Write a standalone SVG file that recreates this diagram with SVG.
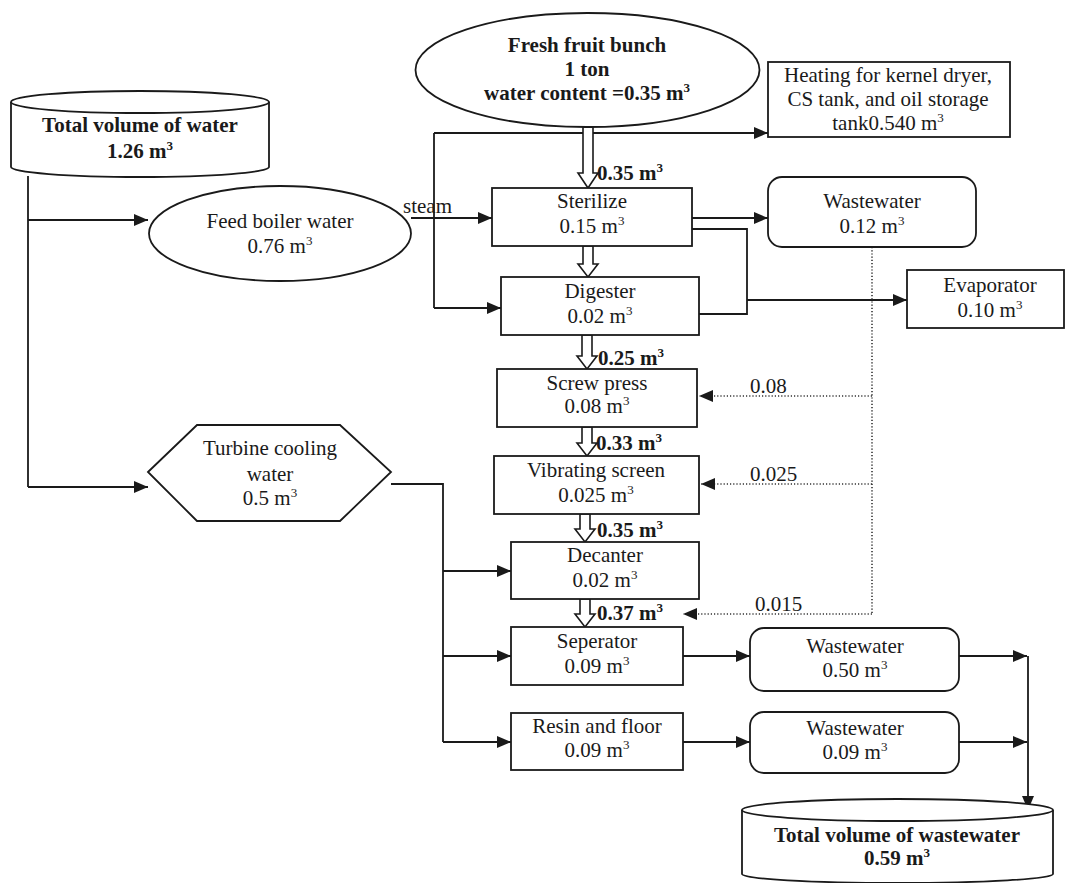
<svg xmlns="http://www.w3.org/2000/svg" width="1072" height="883" viewBox="0 0 1072 883">
  <defs>
    <marker id="arrow" markerUnits="userSpaceOnUse" markerWidth="16" markerHeight="14" refX="14" refY="6" orient="auto">
      <path d="M0,0 L14,6 L0,12 Z" fill="#1a1a1a"/>
    </marker>
    <style>
      .shape { fill: #fff; stroke: #1a1a1a; stroke-width: 1.8; }
      .line { fill: none; stroke: #1a1a1a; stroke-width: 1.8; }
      .arrow { fill: none; stroke: #1a1a1a; stroke-width: 1.8; marker-end: url(#arrow); }
      .dotted { fill: none; stroke: #333; stroke-width: 1.6; stroke-dasharray: 1.2 2; }
      .dotted-arrow { fill: none; stroke: #333; stroke-width: 1.6; stroke-dasharray: 1.2 2; marker-end: url(#arrow); }
      .hollow { fill: #fff; stroke: #1a1a1a; stroke-width: 1.6; stroke-linejoin: miter; }
      text { font-family: "Liberation Serif", "Times New Roman", serif; font-size: 21px; fill: #1a1a1a; }
      .c { text-anchor: middle; }
      .b { font-weight: bold; }
      .sup { font-size: 13px; }
    </style>
  </defs>

  <rect width="1072" height="883" fill="#fff"/>

  <!-- connectors -->
  <g id="connectors">
    <!-- main water supply trunk -->
    <path class="line" d="M28,176 L28,487"/>
    <path class="arrow" d="M28,220 L148,220"/>
    <path class="arrow" d="M28,487 L148,487"/>

    <!-- steam from boiler -->
    <path class="arrow" d="M411,218 L492,218"/>
    <path class="line" d="M434,133 L434,308"/>
    <path class="arrow" d="M434,133 L768,133"/>
    <path class="arrow" d="M434,308 L501,308"/>

    <!-- sterilizer outputs -->
    <path class="arrow" d="M692,218 L768,218"/>
    <path class="line" d="M692,229 L747,229 L747,314 L699,314"/>
    <path class="arrow" d="M747,300 L907,300"/>

    <!-- recycled wastewater (dotted) -->
    <path class="dotted" d="M872,247 L872,614"/>
    <path class="dotted-arrow" d="M872,396 L699,396"/>
    <path class="dotted-arrow" d="M872,484 L701,484"/>
    <path class="dotted-arrow" d="M872,614 L683,614"/>

    <!-- turbine cooling water distribution -->
    <path class="line" d="M391,484 L443,484 L443,742"/>
    <path class="arrow" d="M443,571 L511,571"/>
    <path class="arrow" d="M443,656 L511,656"/>
    <path class="arrow" d="M443,742 L511,742"/>

    <!-- to wastewater -->
    <path class="arrow" d="M683,656 L750,656"/>
    <path class="arrow" d="M683,742 L750,742"/>
    <path class="arrow" d="M959,656 L1027,656"/>
    <path class="arrow" d="M959,742 L1027,742"/>
    <path class="arrow" d="M1028,656 L1028,810"/>

    <!-- main process flow (hollow arrows) -->
    <polygon class="hollow" points="583,127 583,173 578,173 588,188 598,173 593,173 593,127"/>
    <polygon class="hollow" points="583,246 583,264 578,264 588,277 598,264 593,264 593,246"/>
    <polygon class="hollow" points="582,335 582,356 577,356 587,369 597,356 592,356 592,335"/>
    <polygon class="hollow" points="582,427 582,443 577,443 587,456 597,443 592,443 592,427"/>
    <polygon class="hollow" points="580,514 580,529 575,529 585,542 595,529 590,529 590,514"/>
    <polygon class="hollow" points="580,599 580,614 575,614 585,627 595,614 590,614 590,599"/>

    <text x="403" y="213">steam</text>
    <text class="b" x="597" y="180">0.35 m<tspan class="sup" dy="-8">3</tspan></text>
    <text class="b" x="598" y="365">0.25 m<tspan class="sup" dy="-8">3</tspan></text>
    <text class="b" x="596" y="450">0.33 m<tspan class="sup" dy="-8">3</tspan></text>
    <text class="b" x="597" y="537">0.35 m<tspan class="sup" dy="-8">3</tspan></text>
    <text class="b" x="597" y="620">0.37 m<tspan class="sup" dy="-8">3</tspan></text>
    <text x="750" y="393">0.08</text>
    <text x="750" y="481">0.025</text>
    <text x="755" y="611">0.015</text>
  </g>

  <!-- source tank -->
  <g id="total-water">
    <path class="shape" d="M11,102 L11,167 A129,10 0 0 0 269,167 L269,102"/>
    <ellipse class="shape" cx="140" cy="102" rx="129" ry="11"/>
    <text class="c b" x="140" y="132">Total volume of water</text>
    <text class="c b" x="140" y="158">1.26 m<tspan class="sup" dy="-8">3</tspan></text>
  </g>

  <g id="feed-boiler">
    <ellipse class="shape" cx="280" cy="233.5" rx="131" ry="47.5"/>
    <text class="c" x="280" y="228">Feed boiler water</text>
    <text class="c" x="280" y="253">0.76 m<tspan class="sup" dy="-8">3</tspan></text>
  </g>

  <g id="turbine">
    <polygon class="shape" points="148,472 197,425 340,425 391,472 340,521 197,521"/>
    <text class="c" x="270" y="455">Turbine cooling</text>
    <text class="c" x="270" y="481">water</text>
    <text class="c" x="270" y="505">0.5 m<tspan class="sup" dy="-8">3</tspan></text>
  </g>

  <g id="fresh-fruit">
    <ellipse class="shape" cx="587.5" cy="70" rx="172" ry="57"/>
    <text class="c b" x="587" y="52">Fresh fruit bunch</text>
    <text class="c b" x="587" y="76">1 ton</text>
    <text class="c b" x="587" y="100">water content =0.35 m<tspan class="sup" dy="-8">3</tspan></text>
  </g>

  <g id="heating">
    <rect class="shape" x="768" y="62" width="242" height="75"/>
    <text class="c" x="888" y="82">Heating for kernel dryer,</text>
    <text class="c" x="888" y="106">CS tank, and oil storage</text>
    <text class="c" x="888" y="130">tank0.540 m<tspan class="sup" dy="-8">3</tspan></text>
  </g>

  <g id="sterilize">
    <rect class="shape" x="492" y="188" width="200" height="58"/>
    <text class="c" x="592" y="208">Sterilize</text>
    <text class="c" x="592" y="233">0.15 m<tspan class="sup" dy="-8">3</tspan></text>
  </g>

  <g id="wastewater-sterilize">
    <rect class="shape" x="768" y="177" width="208" height="70" rx="14"/>
    <text class="c" x="872" y="208">Wastewater</text>
    <text class="c" x="872" y="233">0.12 m<tspan class="sup" dy="-8">3</tspan></text>
  </g>

  <g id="digester">
    <rect class="shape" x="501" y="277" width="198" height="58"/>
    <text class="c" x="600" y="298">Digester</text>
    <text class="c" x="600" y="323">0.02 m<tspan class="sup" dy="-8">3</tspan></text>
  </g>

  <g id="evaporator">
    <rect class="shape" x="907" y="270" width="157" height="58"/>
    <text class="c" x="990" y="292">Evaporator</text>
    <text class="c" x="990" y="317">0.10 m<tspan class="sup" dy="-8">3</tspan></text>
  </g>

  <g id="screw-press">
    <rect class="shape" x="497" y="369" width="200" height="58"/>
    <text class="c" x="597" y="390">Screw press</text>
    <text class="c" x="597" y="413">0.08 m<tspan class="sup" dy="-8">3</tspan></text>
  </g>

  <g id="vibrating-screen">
    <rect class="shape" x="494" y="456" width="205" height="58"/>
    <text class="c" x="596" y="477">Vibrating screen</text>
    <text class="c" x="596" y="502">0.025 m<tspan class="sup" dy="-8">3</tspan></text>
  </g>

  <g id="decanter">
    <rect class="shape" x="511" y="542" width="188" height="57"/>
    <text class="c" x="605" y="562">Decanter</text>
    <text class="c" x="605" y="587">0.02 m<tspan class="sup" dy="-8">3</tspan></text>
  </g>

  <g id="separator">
    <rect class="shape" x="511" y="627" width="172" height="58"/>
    <text class="c" x="597" y="648">Seperator</text>
    <text class="c" x="597" y="673">0.09 m<tspan class="sup" dy="-8">3</tspan></text>
  </g>

  <g id="resin-floor">
    <rect class="shape" x="511" y="713" width="172" height="57"/>
    <text class="c" x="597" y="733">Resin and floor</text>
    <text class="c" x="597" y="757">0.09 m<tspan class="sup" dy="-8">3</tspan></text>
  </g>

  <g id="wastewater-separator">
    <rect class="shape" x="750" y="628" width="209" height="63" rx="14"/>
    <text class="c" x="855" y="653">Wastewater</text>
    <text class="c" x="855" y="677">0.50 m<tspan class="sup" dy="-8">3</tspan></text>
  </g>

  <g id="wastewater-resin">
    <rect class="shape" x="750" y="712" width="209" height="61" rx="14"/>
    <text class="c" x="855" y="735">Wastewater</text>
    <text class="c" x="855" y="759">0.09 m<tspan class="sup" dy="-8">3</tspan></text>
  </g>

  <!-- collection tank -->
  <g id="total-wastewater">
    <path class="shape" d="M742,810 L742,874 A155.5,9 0 0 0 1053,874 L1053,810"/>
    <ellipse class="shape" cx="897.5" cy="810" rx="155.5" ry="11"/>
    <text class="c b" x="897" y="842">Total volume of wastewater</text>
    <text class="c b" x="897" y="865">0.59 m<tspan class="sup" dy="-8">3</tspan></text>
  </g>
</svg>
